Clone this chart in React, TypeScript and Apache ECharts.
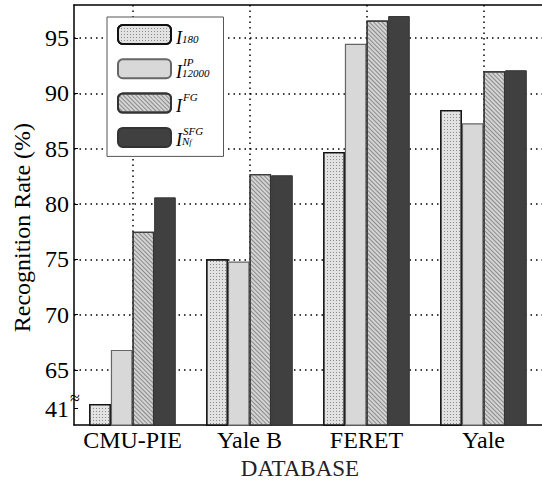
import React, { useEffect, useRef } from "react";
import * as echarts from "echarts";

// ---- data ----
const categories = ["CMU-PIE", "Yale B", "FERET", "Yale"];
const seriesNames = ["I180", "IP12000", "IFG", "ISFG"];
const valuesI180 = [41.4, 75.0, 84.7, 88.5];
const valuesIP12000 = [66.8, 74.8, 94.5, 87.3];
const valuesIFG = [77.5, 82.7, 96.6, 92.0];
const valuesISFG = [80.6, 82.6, 97.0, 92.1];
const yTickLabels = [41, 65, 70, 75, 80, 85, 90, 95];
// auxiliary half-band positions for the vertical dotted grid (category centres)
const halfBands = ["0", "1", "2", "3", "4", "5", "6", "7", "8"];

// broken axis: values below BREAK_BELOW are shifted up by BREAK_OFFSET
const BREAK_BELOW = 50;
const BREAK_OFFSET = 20.5;
const toAxis = (v: number) => (v < BREAK_BELOW ? v + BREAK_OFFSET : v);
const fromAxis = (v: number) => (v < 62 ? Math.round(v - BREAK_OFFSET) : Math.round(v));

const SERIF = "Liberation Serif";
const GSERIF = "serif";

const legendLabels: Record<string, string> = {
  I180: "{sp| }\n{i|I}{sub|180}",
  IP12000: "{sp| }{sup|IP}\n{i|I}{sub|12000}",
  IFG: "{sp| }{sup|FG}\n{i|I}",
  ISFG: "{sp| }{sup|SFG}\n{i|I}{sub|N}{subsub|f}",
};

const dotted = { color: "#000", width: 1.5, type: [1.5, 4] as any };
const richLabel = { a: { fontFamily: SERIF, fontSize: 24, color: "#000" } };

export default function App() {
  const ref = useRef<HTMLDivElement>(null);
  useEffect(() => {
    if (!ref.current) return;
    const chart = echarts.init(ref.current, undefined, { renderer: "svg" });
    const allValues = [valuesI180, valuesIP12000, valuesIFG, valuesISFG];
    const styles = [
      {
        color: "#e2e2e2",
        borderColor: "#111",
        borderWidth: 1.2,
        decal: { symbol: "rect", symbolSize: 1, dashArrayX: [1, 2], dashArrayY: [1, 2], color: "#8c8c8c" },
      },
      { color: "#d8d8d8", borderColor: "#666", borderWidth: 1.2 },
      {
        color: "#d4d4d4",
        borderColor: "#333",
        borderWidth: 1.2,
        decal: { symbol: "rect", symbolSize: 1, dashArrayX: [1, 0], dashArrayY: [1, 2], rotation: Math.PI / 4, color: "#8a8a8a" },
      },
      { color: "#404040", borderColor: "#333", borderWidth: 1 },
    ];
    const splitColors = ["rgba(0,0,0,0)", "#000", "#000", "#000", "#000", "#000", "#000", "#000", "#000"];
    chart.setOption({
      animation: false,
      backgroundColor: "#fff",
      grid: { left: 74, right: -9, top: 5, bottom: 56 },
      legend: {
        orient: "vertical",
        left: 107,
        top: 17,
        itemWidth: 53,
        itemHeight: 19,
        itemGap: 10.3,
        padding: [7, 14, 7, 10],
        backgroundColor: "#fff",
        borderColor: "#555",
        borderWidth: 1,
        data: seriesNames,
        formatter: (name: string) => legendLabels[name],
        textStyle: {
          fontFamily: SERIF,
          color: "#000",
          rich: {
            sp: { width: 7, lineHeight: 6, fontSize: 6 },
            sup: { fontFamily: SERIF, fontStyle: "italic", fontSize: 11, lineHeight: 6, color: "#000" },
            i: { fontFamily: SERIF, fontStyle: "italic", fontSize: 18, lineHeight: 13, color: "#000" },
            sub: { fontFamily: SERIF, fontStyle: "italic", fontSize: 11, lineHeight: 2, verticalAlign: "bottom", color: "#000" },
            subsub: { fontFamily: SERIF, fontStyle: "italic", fontSize: 8, lineHeight: 1, verticalAlign: "bottom", color: "#000" },
          },
        },
      },
      xAxis: [
        {
          type: "category",
          data: categories,
          position: "bottom",
          axisLine: { lineStyle: { color: "#000", width: 1.5 } },
          axisTick: { show: false },
          axisLabel: {
            interval: 0,
            fontFamily: GSERIF,
            fontSize: 24,
            color: "#000",
            margin: 3,
            formatter: (v: string) => "{a|" + v + "}",
            rich: richLabel,
          },
          splitLine: { show: false },
          name: "DATABASE",
          nameLocation: "middle",
          nameGap: 30,
          nameTextStyle: { fontFamily: GSERIF, fontSize: 23, color: "#222", padding: [0, 16, 0, 0] },
        },
        {
          type: "category",
          data: halfBands,
          boundaryGap: false,
          position: "top",
          axisLine: { show: true, lineStyle: { color: "#000", width: 1.5 } },
          axisTick: { show: false },
          axisLabel: { show: false },
          splitLine: { show: true, interval: (i: number) => i % 2 === 1, lineStyle: dotted },
        },
      ],
      yAxis: {
        type: "value",
        min: 60,
        max: 98,
        interval: 5,
        axisLine: { show: true, lineStyle: { color: "#000", width: 1.5 } },
        axisTick: { show: true, inside: true, length: 4, lineStyle: { color: "#000" }, customValues: yTickLabels.map(toAxis) },
        axisLabel: {
          fontFamily: GSERIF,
          fontSize: 24,
          color: "#000",
          margin: 5,
          customValues: yTickLabels.map(toAxis),
          formatter: (v: number) => "{a|" + fromAxis(v) + "}",
          rich: richLabel,
        },
        splitLine: { show: true, lineStyle: { ...dotted, color: splitColors } },
        name: "Recognition Rate (%)",
        nameLocation: "middle",
        nameGap: 40,
        nameTextStyle: { fontFamily: GSERIF, fontSize: 24, color: "#000", padding: [0, 25, 0, 0] },
      },
      series: seriesNames.map((name, k) => ({
        name,
        type: "bar",
        xAxisIndex: 0,
        barGap: "0%",
        barCategoryGap: "26%",
        itemStyle: styles[k],
        data: allValues[k].map(toAxis),
      })),
      graphic: [
        {
          type: "text",
          x: 75,
          y: 398,
          z: 100,
          style: { text: "≈", fontFamily: SERIF, fontSize: 18, fill: "#000", align: "center", verticalAlign: "middle" },
        },
      ],
    });
    return () => chart.dispose();
  }, []);
  return <div ref={ref} style={{ position: "absolute", left: 0, top: 0, width: 542, height: 485 }} />;
}
